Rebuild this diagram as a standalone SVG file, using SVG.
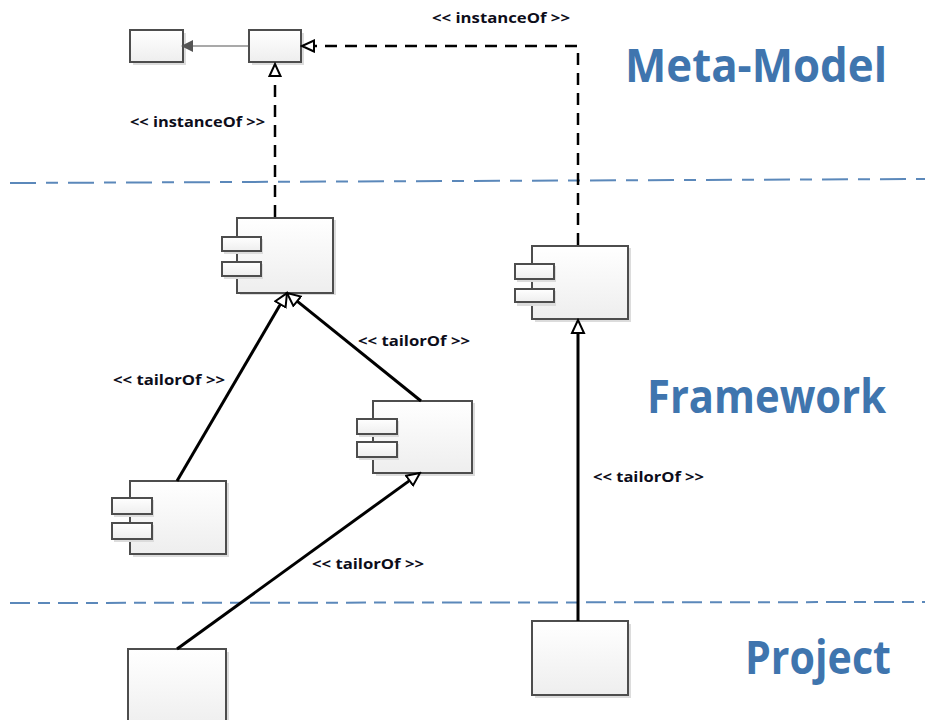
<svg xmlns="http://www.w3.org/2000/svg" width="925" height="720" viewBox="0 0 925 720">
  <defs>
    <linearGradient id="boxFill" x1="0" y1="0" x2="0" y2="1">
      <stop offset="0" stop-color="#ffffff"/>
      <stop offset="1" stop-color="#eeeeee"/>
    </linearGradient>
    <marker id="openTri" markerUnits="userSpaceOnUse" markerWidth="16" markerHeight="16" viewBox="-1 -1 16 14" refX="0" refY="6" orient="auto">
      <path d="M0,0 L13,6 L0,12 Z" fill="#ffffff" stroke="#000" stroke-width="2" stroke-linejoin="miter"/>
    </marker>
    <marker id="openTriSmall" markerUnits="userSpaceOnUse" markerWidth="15" markerHeight="15" viewBox="-1 -1 15 13" refX="0" refY="5.5" orient="auto">
      <path d="M0,0 L12,5.5 L0,11 Z" fill="#ffffff" stroke="#000" stroke-width="2"/>
    </marker>
    <marker id="fillTri" markerUnits="userSpaceOnUse" markerWidth="12" markerHeight="12" viewBox="0 0 10 10" refX="0" refY="5" orient="auto">
      <path d="M0,0 L10,5 L0,10 Z" fill="#555"/>
    </marker>
  </defs>
  <style>
    .shadow { fill: #dcdcdc; }
    .box { fill: url(#boxFill); stroke: #4d4d4d; stroke-width: 2; }
    .sep { fill: none; stroke: #5b88ba; stroke-width: 2; }
    .tailor { fill: none; stroke: #000; stroke-width: 3; marker-end: url(#openTri); }
    .inst { fill: none; stroke: #000; stroke-width: 2.5; stroke-dasharray: 12 8; marker-end: url(#openTriSmall); }
    .assoc { fill: none; stroke: #555; stroke-width: 1.2; marker-end: url(#fillTri); }
    .lbl { font-family: "Open Sans", "Liberation Sans", sans-serif; font-weight: 700; font-size: 14.5px; fill: #0d0d1a; }
    .layer { font-family: "Open Sans", "Liberation Sans", sans-serif; font-weight: 700; font-size: 47px; fill: #3f75ae; }
  </style>

  <!-- layer separators -->
  <g id="separators">
    <path class="sep" d="M10,183 L925,179" stroke-dasharray="26 10 12 10"/>
    <path class="sep" d="M10,603 L925,602" stroke-dasharray="20 8 12 8"/>
  </g>

  <!-- layer titles -->
  <g id="layer-titles">
    <text class="layer" x="625" y="82" textLength="262" lengthAdjust="spacingAndGlyphs">Meta-Model</text>
    <text class="layer" x="647" y="413" textLength="239" lengthAdjust="spacingAndGlyphs">Framework</text>
    <text class="layer" x="745" y="674" textLength="146" lengthAdjust="spacingAndGlyphs">Project</text>
  </g>

  <!-- meta-model classes -->
  <g id="meta-class-1">
    <rect class="shadow" x="133" y="33" width="53" height="32"/>
    <rect class="box" x="130" y="30" width="53" height="32"/>
  </g>
  <g id="meta-class-2">
    <rect class="shadow" x="252" y="33" width="52" height="32"/>
    <rect class="box" x="249" y="30" width="52" height="32"/>
  </g>

  <!-- framework components -->
  <g id="component-a">
    <rect class="shadow" x="240" y="220" width="96" height="75"/>
    <rect class="box" x="237" y="218" width="96" height="75"/>
    <rect class="shadow" x="224" y="239" width="39" height="15"/>
    <rect class="box" x="222" y="237" width="39" height="14"/>
    <rect class="shadow" x="224" y="264" width="39" height="15"/>
    <rect class="box" x="222" y="262" width="39" height="14"/>
  </g>
  <g id="component-b">
    <rect class="shadow" x="535" y="248" width="96" height="74"/>
    <rect class="box" x="532" y="246" width="96" height="73"/>
    <rect class="shadow" x="517" y="266" width="39" height="16"/>
    <rect class="box" x="515" y="264" width="39" height="15"/>
    <rect class="shadow" x="517" y="291" width="39" height="15"/>
    <rect class="box" x="515" y="289" width="39" height="13"/>
  </g>
  <g id="component-c">
    <rect class="shadow" x="376" y="403" width="99" height="73"/>
    <rect class="box" x="373" y="401" width="99" height="72"/>
    <rect class="shadow" x="359" y="421" width="40" height="16"/>
    <rect class="box" x="357" y="419" width="40" height="15"/>
    <rect class="shadow" x="359" y="444" width="40" height="16"/>
    <rect class="box" x="357" y="442" width="40" height="15"/>
  </g>
  <g id="component-d">
    <rect class="shadow" x="133" y="483" width="96" height="74"/>
    <rect class="box" x="130" y="481" width="96" height="73"/>
    <rect class="shadow" x="114" y="500" width="40" height="17"/>
    <rect class="box" x="112" y="498" width="40" height="16"/>
    <rect class="shadow" x="114" y="525" width="40" height="17"/>
    <rect class="box" x="112" y="523" width="40" height="16"/>
  </g>

  <!-- project elements -->
  <g id="project-e">
    <rect class="shadow" x="131" y="652" width="98" height="75"/>
    <rect class="box" x="128" y="649" width="98" height="80"/>
  </g>
  <g id="project-f">
    <rect class="shadow" x="535" y="624" width="96" height="74"/>
    <rect class="box" x="532" y="621" width="96" height="74"/>
  </g>

  <!-- connectors -->
  <g id="connectors">
    <path class="assoc" d="M249,46 L193,46"/>
    <path class="inst" d="M578,245 L578,46 L314,46"/>
    <path class="inst" d="M275,217 L275,76"/>
    <path class="tailor" d="M177,481 L280.4,304.3"/>
    <path class="tailor" d="M421,401 L297.1,301.2"/>
    <path class="tailor" d="M177,649 L409.5,480.6"/>
    <path class="tailor" d="M578,621 L578,333"/>
  </g>

  <!-- connector labels -->
  <g id="connector-labels">
    <text class="lbl" x="432" y="23" textLength="138" lengthAdjust="spacingAndGlyphs">&lt;&lt; instanceOf &gt;&gt;</text>
    <text class="lbl" x="130" y="127" textLength="135" lengthAdjust="spacingAndGlyphs">&lt;&lt; instanceOf &gt;&gt;</text>
    <text class="lbl" x="113" y="385" textLength="112" lengthAdjust="spacingAndGlyphs">&lt;&lt; tailorOf &gt;&gt;</text>
    <text class="lbl" x="358" y="346" textLength="112" lengthAdjust="spacingAndGlyphs">&lt;&lt; tailorOf &gt;&gt;</text>
    <text class="lbl" x="312" y="569" textLength="112" lengthAdjust="spacingAndGlyphs">&lt;&lt; tailorOf &gt;&gt;</text>
    <text class="lbl" x="593" y="482" textLength="111" lengthAdjust="spacingAndGlyphs">&lt;&lt; tailorOf &gt;&gt;</text>
  </g>
</svg>
